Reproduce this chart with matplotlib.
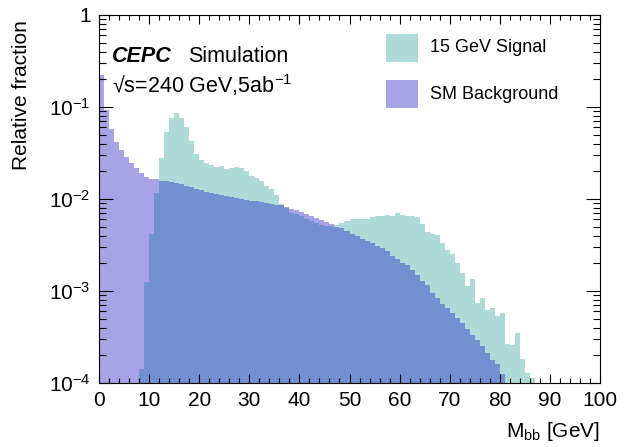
import numpy as np
import matplotlib
matplotlib.use("Agg")
import matplotlib.pyplot as plt
from matplotlib.ticker import MultipleLocator, LogLocator, FuncFormatter, NullFormatter
from matplotlib.patches import Rectangle

plt.rcParams['font.family'] = ['Liberation Sans', 'DejaVu Sans']
plt.rcParams['mathtext.fontset'] = 'custom'
plt.rcParams['mathtext.rm'] = 'Liberation Sans'
plt.rcParams['mathtext.it'] = 'Liberation Sans:italic'
plt.rcParams['mathtext.bf'] = 'Liberation Sans:bold'

# 1 GeV bins of M_bb, normalised to unit area
bkg_start = 0
bkg_frac = [
    0.221, 0.092, 0.058, 0.042, 0.0344, 0.0286, 0.0246, 0.0219, 0.0192, 0.0173,
    0.0167, 0.0163, 0.0158, 0.0155, 0.0153, 0.0150, 0.0145, 0.0140, 0.0134, 0.0129,
    0.0124, 0.0120, 0.0117, 0.0114, 0.0111, 0.0108, 0.0105, 0.0102, 0.0100, 0.0097,
    0.0095, 0.0094, 0.0093, 0.0091, 0.0089, 0.0087, 0.0085, 0.0082, 0.0078, 0.0075,
    0.0072, 0.0068, 0.0065, 0.0062, 0.0059, 0.0056, 0.0053, 0.0050, 0.0048, 0.0045,
    0.0042, 0.0040, 0.0037, 0.0035, 0.0033, 0.0031, 0.0029, 0.0027, 0.0024, 0.0022,
    0.0020, 0.0019, 0.0017, 0.0015, 0.0013, 0.00115, 0.00095, 0.00083, 0.00073, 0.00066,
    0.00058, 0.00051, 0.00045, 0.00039, 0.00033, 0.00029, 0.00025, 0.00021, 0.00018, 0.00016,
    0.000125,
]

sig_start = 8
sig_frac = [
    0.000143, 0.00125, 0.0042, 0.0116, 0.028, 0.0535, 0.0766, 0.086, 0.0766, 0.061,
    0.043, 0.031, 0.0263, 0.0248, 0.0235, 0.0224, 0.0226, 0.0212, 0.0216, 0.0220,
    0.0216, 0.0201, 0.0177, 0.0168, 0.0157, 0.0138, 0.0127, 0.0110, 0.0089, 0.0080,
    0.0071, 0.0068, 0.0065, 0.0061, 0.0058, 0.0055, 0.0052, 0.0051, 0.0051, 0.0052,
    0.0055, 0.0057, 0.0060, 0.0061, 0.0061, 0.0061, 0.0064, 0.0066, 0.0066, 0.0067,
    0.0066, 0.0070, 0.0067, 0.0065, 0.0065, 0.0064, 0.0054, 0.0044, 0.0042, 0.0041,
    0.0033, 0.0028, 0.0025, 0.0020, 0.00156, 0.00114, 0.00134, 0.00074, 0.00084, 0.00062,
    0.00066, 0.00053, 0.00058, 0.000265, 0.00026, 0.00035, 0.000184, 0.000128, 0.000112,
]

labels = ["15 GeV Signal", "SM Background"]
sig_color = "#aedbd8"
bkg_color = "#a8a3e6"
both_color = "#7290d0"

edges = np.arange(0, 101, 1.0)
nb = len(edges) - 1
floor = 1e-9
sig = np.full(nb, floor)
sig[sig_start:sig_start + len(sig_frac)] = sig_frac
bkg = np.full(nb, floor)
bkg[bkg_start:bkg_start + len(bkg_frac)] = bkg_frac

fig = plt.figure(figsize=(6.28, 4.47), dpi=100)
ax = fig.add_axes([99 / 628, 1 - 383 / 447, 501 / 628, 368 / 447])

ax.stairs(sig, edges, baseline=floor, fill=True, color=sig_color, lw=0)
ax.stairs(bkg, edges, baseline=floor, fill=True, color=bkg_color, lw=0)
ax.stairs(np.minimum(sig, bkg), edges, baseline=floor, fill=True, color=both_color, lw=0)

ax.set_yscale("log")
ax.set_xlim(0, 100)
ax.set_ylim(1e-4, 1)

ax.xaxis.set_major_locator(MultipleLocator(10))
ax.xaxis.set_minor_locator(MultipleLocator(2))
ax.yaxis.set_major_locator(LogLocator(base=10, numticks=10))
ax.yaxis.set_minor_locator(LogLocator(base=10, subs=np.arange(2, 10), numticks=20))
ax.yaxis.set_minor_formatter(NullFormatter())


def ylab(v, pos):
    e = int(round(np.log10(v)))
    return "1" if e == 0 else r"$10^{%d}$" % e


ax.yaxis.set_major_formatter(FuncFormatter(ylab))

ax.tick_params(which="both", direction="in", top=True, right=True, width=0.8,
               labelsize=15)
ax.tick_params(axis="x", which="major", length=6.5, pad=6)
ax.tick_params(axis="x", which="minor", length=3.5)
ax.tick_params(axis="y", which="major", length=10, pad=6)
ax.tick_params(axis="y", which="minor", length=5)
for s in ax.spines.values():
    s.set_linewidth(0.8)

fig.text(22 / 628, 1 - 20 / 447, "Relative fraction", rotation=90,
         ha="center", va="top", fontsize=15)
fig.text(600 / 628, 1 - 437 / 447, r"M$_{\mathrm{bb}}$ [GeV]", ha="right",
         va="baseline", fontsize=15)

# experiment label
fig.text(112 / 628, 1 - 62 / 447, "CEPC", fontsize=15.5, fontweight="bold",
         fontstyle="italic", va="baseline")
fig.text(188 / 628, 1 - 62 / 447, "Simulation", fontsize=15.5, va="baseline")
fig.text(112 / 628, 1 - 93 / 447, r"√s=240 GeV,5ab$^{-1}$", fontsize=15.5,
         va="baseline")

# legend
for (y0, col, lab) in [(34, sig_color, labels[0]), (80, bkg_color, labels[1])]:
    fig.patches.append(Rectangle((386 / 628, 1 - (y0 + 28) / 447), 32 / 628, 28 / 447,
                                 transform=fig.transFigure, color=col, lw=0))
    fig.text(430 / 628, 1 - (y0 + 14) / 447, lab, fontsize=13, va="center")

fig.savefig("out.png", dpi=100)
